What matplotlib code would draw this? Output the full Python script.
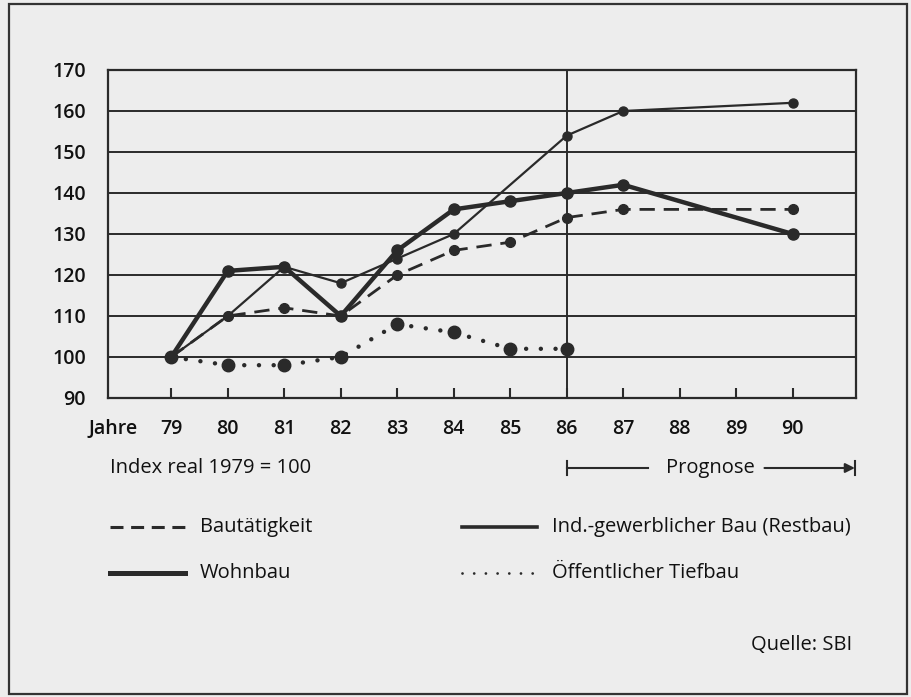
import numpy as np
import matplotlib
matplotlib.use("Agg")
import matplotlib.pyplot as plt
from matplotlib.lines import Line2D
from matplotlib.patches import Rectangle
from matplotlib.transforms import blended_transform_factory

plt.rcParams['font.family'] = ['Open Sans', 'DejaVu Sans']

# Daten (Index real 1979 = 100)
jahre_bau = [79, 80, 81, 82, 83, 84, 85, 86, 87, 90]
bautaetigkeit = [100, 110, 112, 110, 120, 126, 128, 134, 136, 136]

jahre_wohn = [79, 80, 81, 82, 83, 84, 85, 86, 87, 90]
wohnbau = [100, 121, 122, 110, 126, 136, 138, 140, 142, 130]

jahre_ind = [79, 80, 81, 82, 83, 84, 86, 87, 90]
ind_gewerbe = [100, 110, 122, 118, 124, 130, 154, 160, 162]

jahre_oeff = [79, 80, 81, 82, 83, 84, 85, 86]
oeff_tiefbau = [100, 98, 98, 100, 108, 106, 102, 102]

x_ticks = list(range(79, 91))
y_ticks = list(range(90, 171, 10))

INK = '#2a2a2a'
TXT = '#111111'
BG = '#ededed'
FS = 14.5

styles = {
    'Bautätigkeit': dict(color=INK, lw=2.0, dashes=(5.5, 3.2), marker='o', ms=7),
    'Wohnbau': dict(color=INK, lw=3.2, ls='-', marker='o', ms=8),
    'Ind.-gewerblicher Bau (Restbau)': dict(color=INK, lw=1.6, ls='-', marker='o', ms=6.5),
    'Öffentlicher Tiefbau': dict(color=INK, lw=3.2, dashes=(0.01, 3.3), marker='o', ms=9,
                                 dash_capstyle='round'),
}

fig = plt.figure(figsize=(9.11, 6.97), dpi=100, facecolor=BG)
W, H = 911, 697

ax = fig.add_axes([108 / W, 1 - 398 / H, (856 - 108) / W, (398 - 70) / H])
ax.set_facecolor(BG)

ax.plot(jahre_bau, bautaetigkeit, **styles['Bautätigkeit'], zorder=4)
ax.plot(jahre_ind, ind_gewerbe, **styles['Ind.-gewerblicher Bau (Restbau)'], zorder=5)
ax.plot(jahre_wohn, wohnbau, **styles['Wohnbau'], zorder=6)
ax.plot(jahre_oeff, oeff_tiefbau, **styles['Öffentlicher Tiefbau'], zorder=4)

ax.set_xlim(77.88, 91.12)
ax.set_ylim(90, 170)
ax.set_yticks(y_ticks)
ax.set_xticks(x_ticks)
ax.set_xticklabels([str(j) for j in x_ticks])
XPAD = 15
ax.tick_params(axis='y', length=0, pad=16, labelsize=14)
ax.tick_params(axis='x', direction='in', length=7, width=1.5, color=INK, pad=XPAD, labelsize=14)
for lab in ax.get_xticklabels() + ax.get_yticklabels():
    lab.set_fontweight('semibold')
    lab.set_color(TXT)
ax.grid(axis='y', color=INK, lw=1.4, zorder=1)
ax.axvline(86, color=INK, lw=1.4, zorder=1)
for s in ax.spines.values():
    s.set_color(INK)
    s.set_linewidth(1.6)

# "Jahre" vor den Jahreszahlen, gleiche Zeile wie die Tick-Beschriftung
tj, va_j, _ = ax.get_xaxis_text1_transform(XPAD)
ax.text(77.53, 0, 'Jahre', transform=tj, ha='left', va=va_j,
        fontsize=14, fontweight='semibold', color=TXT)

# Prognose-Pfeil
tp = blended_transform_factory(ax.transData, fig.transFigure)
yp = 1 - 468 / H
bar = 7 / H
ax.plot([86, 87.44], [yp, yp], transform=tp, color=INK, lw=1.5, clip_on=False)
ax.plot([86, 86], [yp - bar, yp + bar], transform=tp, color=INK, lw=1.5, clip_on=False)
ax.text(88.55, yp, 'Prognose', transform=tp, ha='center', va='center', fontsize=FS, color=TXT)
ax.annotate('', xy=(91.1, yp), xytext=(89.5, yp), xycoords=tp, textcoords=tp,
            arrowprops=dict(arrowstyle='-|>', color=INK, lw=1.5, mutation_scale=14,
                            shrinkA=0, shrinkB=0), annotation_clip=False)
ax.plot([91.1, 91.1], [yp - bar, yp + bar], transform=tp, color=INK, lw=1.5, clip_on=False)

# Legende und Texte
fig.text(110 / W, 1 - 468 / H, 'Index real 1979 = 100', ha='left', va='center',
         fontsize=FS, color=TXT)

legend_items = [
    ('Bautätigkeit', 110, 527),
    ('Wohnbau', 110, 573),
    ('Ind.-gewerblicher Bau (Restbau)', 462, 527),
    ('Öffentlicher Tiefbau', 462, 573),
]
for name, x0, y0 in legend_items:
    st = {k: v for k, v in styles[name].items() if k not in ('marker', 'ms')}
    if name == 'Bautätigkeit':
        st['lw'] = 2.2
        st['dashes'] = (4.25, 2.5)
    if name == 'Wohnbau':
        st['lw'] = 3.6
    if name == 'Ind.-gewerblicher Bau (Restbau)':
        st['lw'] = 2.6
    if name == 'Öffentlicher Tiefbau':
        st['lw'] = 2.0
        st['dashes'] = (0.01, 4.2)
    fig.add_artist(Line2D([x0 / W, (x0 + 75) / W], [1 - y0 / H, 1 - y0 / H],
                          transform=fig.transFigure, **st))
    fig.text((x0 + 90) / W, 1 - y0 / H, name, ha='left', va='center',
             fontsize=FS, color=TXT)

fig.text(852 / W, 1 - 645 / H, 'Quelle: SBI', ha='right', va='center',
         fontsize=FS, color=TXT)

# Rahmen
fig.add_artist(Rectangle((9 / W, 3 / H), (907 - 9) / W, (693 - 3) / H,
                         transform=fig.transFigure, fill=False, ec='#333333', lw=1.6))

fig.savefig('out.png', dpi=100, facecolor=BG)
